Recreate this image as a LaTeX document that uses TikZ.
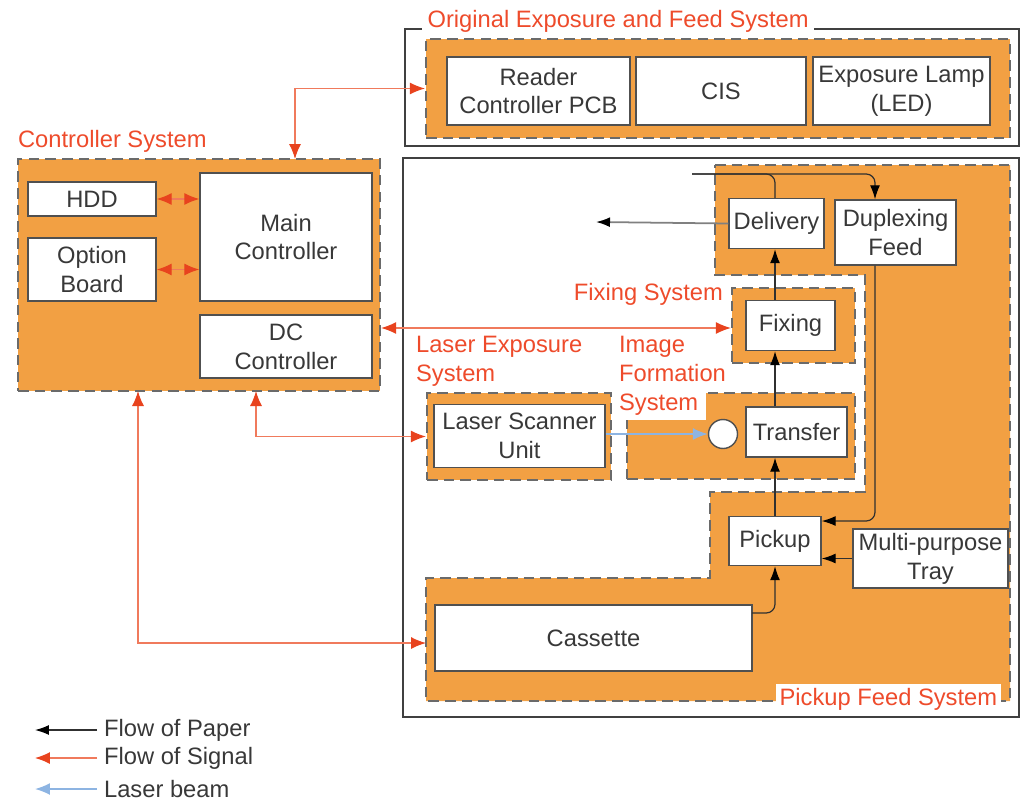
\documentclass[tikz,border=0pt]{standalone}
\usepackage{xcolor}
\usepackage{fontspec}
\setmainfont{Liberation Sans}
\usepackage{tikz}
\usetikzlibrary{arrows.meta}

\definecolor{orng}{HTML}{F2A043}
\definecolor{lblred}{HTML}{EE4B2B}
\definecolor{sigred}{HTML}{E8431E}
\definecolor{sigline}{HTML}{F07A5C}
\definecolor{beamblue}{HTML}{8DB4E2}
\definecolor{txt}{HTML}{383838}
\definecolor{dashgray}{HTML}{6A6A6A}
\definecolor{framegray}{HTML}{404040}
\definecolor{boxline}{HTML}{505050}
\definecolor{paperline}{HTML}{303030}

\begin{document}
\begin{tikzpicture}[
  x=0.02cm, y=-0.02cm,
  font=\fontsize{13.5}{16.4}\selectfont,
  box/.style={draw=boxline, fill=white, line width=0.8pt, align=center,
    inner sep=1pt, text=txt},
  sys/.style={draw=dashgray, fill=orng, dash pattern=on 6pt off 3.5pt,
    line width=1.3pt, inner sep=0pt},
  frame/.style={draw=framegray, line width=1.2pt},
  lbl/.style={text=lblred, align=left, inner sep=1pt},
  sig/.style={{Latex[length=3mm,width=2.4mm,color=sigred]}-{Latex[length=3mm,width=2.4mm,color=sigred]},
    draw=sigline, line width=0.7pt},
  paper/.style={-{Latex[length=2.8mm,width=2mm,color=black]}, draw=paperline, line width=0.7pt},
  beam/.style={-{Latex[length=3mm,width=2.4mm]}, draw=beamblue, line width=0.9pt}
]
\useasboundingbox (0,0) rectangle (1023,801);

% outer frames
\draw[frame] (405,29) rectangle (1019,146);
\draw[frame] (403,158) rectangle (1019,717);

% system areas
\node[sys, minimum width=11.68cm, minimum height=1.98cm] (orig) at (718,88.5) {};
\node[sys, minimum width=7.24cm, minimum height=4.64cm] (ctlsys) at (199,275) {};
\draw[sys] (715,165) -- (1010,165) -- (1010,701) -- (426,701) -- (426,578)
  -- (710,578) -- (710,492) -- (865,492) -- (865,275) -- (715,275) -- cycle;
\node[sys, minimum width=2.46cm, minimum height=1.5cm] (fixsys) at (793.5,325.5) {};
\node[sys, minimum width=3.68cm, minimum height=1.74cm] (lasys) at (519,436.5) {};
\node[sys, minimum width=4.56cm, minimum height=1.72cm] (ifsys) at (741,436) {};
\fill[white] (624,390) rectangle (706,420);

% labels
\node[lbl, fill=white, inner xsep=3pt, anchor=base west] (origlbl) at (422,28)
  {Original Exposure and Feed System};
\node[lbl, anchor=base west] (ctllbl) at (16,147) {Controller System};
\node[lbl, anchor=base east] (fixlbl) at (725,300) {Fixing System};
\node[lbl, anchor=north west] (lalbl) at (414,334) {Laser Exposure\\System};
\node[lbl, anchor=north west] (iflbl) at (617,334) {Image\\Formation\\System};
\node[lbl, fill=white, inner sep=2pt, anchor=base east] (pflbl) at (1001,705)
  {Pickup Feed System};

% units
\node[box, minimum width=3.66cm, minimum height=1.36cm] (rdr) at (538.5,91) {Reader\\Controller PCB};
\node[box, minimum width=3.4cm, minimum height=1.36cm] (cis) at (721,91) {CIS};
\node[box, minimum width=3.54cm, minimum height=1.36cm] (lamp) at (901.5,91) {Exposure Lamp\\(LED)};
\node[box, minimum width=2.56cm, minimum height=0.68cm] (hdd) at (92,199) {HDD};
\node[box, minimum width=2.56cm, minimum height=1.26cm] (opt) at (92,269.5) {Option\\Board};
\node[box, minimum width=3.44cm, minimum height=2.56cm] (mainc) at (286,237) {Main\\Controller};
\node[box, minimum width=3.44cm, minimum height=1.26cm] (dcc) at (286,346.5) {DC\\Controller};
\node[box, minimum width=1.9cm, minimum height=1.0cm] (dlv) at (776.5,223.5) {Delivery};
\node[box, minimum width=2.42cm, minimum height=1.3cm] (dup) at (895.5,232.5) {Duplexing\\Feed};
\node[box, minimum width=1.78cm, minimum height=1.0cm] (fix) at (790.5,325.5) {Fixing};
\node[box, minimum width=3.42cm, minimum height=1.26cm] (lsu) at (519.5,436) {Laser Scanner\\Unit};
\node[circle, draw=boxline, fill=white, line width=0.8pt, minimum size=0.58cm,
  inner sep=0pt] (drum) at (723,434) {};
\node[box, minimum width=2.02cm, minimum height=1.0cm] (trf) at (796.5,432) {Transfer};
\node[box, minimum width=1.84cm, minimum height=0.98cm] (pick) at (775,541) {Pickup};
\node[box, minimum width=3.1cm, minimum height=1.18cm] (mpt) at (930.5,558.5) {Multi-purpose\\Tray};
\node[box, minimum width=6.34cm, minimum height=1.32cm] (cas) at (593.5,638) {Cassette};

% free ends
\coordinate (ctltop) at (295,159);
\coordinate (dcbot) at (256,391);
\coordinate (cbot) at (138,391);
\coordinate (pfin) at (426,643);
\coordinate (papin) at (692,174);
\coordinate (papout) at (596,222);
\coordinate (dupx) at (875,521);
\coordinate (casout) at (752,613);

% signal
\draw[sig] (orig.west) -| (ctltop);
\draw[sig] (hdd.east) -- (hdd.east -| mainc.west);
\draw[sig] (opt.east) -- (opt.east -| mainc.west);
\draw[sig] (ctlsys.east |- 0,328) -- (fixsys.west |- 0,328);
\draw[sig] (dcbot) |- (lasys.west);
\draw[sig] (cbot) |- (pfin);

% laser beam
\draw[beam] (lsu.east |- drum.west) -- (drum.west);

% paper
\draw[paper] (pick.north) -- (pick.north |- trf.south);
\draw[paper] (pick.north |- trf.north) -- (pick.north |- fix.south);
\draw[paper] (pick.north |- fix.north) -- (pick.north |- dlv.south);
\draw[paper, rounded corners=5pt] (casout) -| (pick.south);
\draw[paper] (mpt.west) -- (mpt.west -| pick.east);
\draw[paper, rounded corners=5pt] (dup.south -| dupx) |- (pick.east |- dupx);
\draw[paper, rounded corners=5pt] (papin) -| (dup.north -| dupx);
\draw[draw=paperline, line width=0.7pt, rounded corners=5pt] (pick.north |- dlv.north) |- (papin);
\draw[paper, draw=gray, line width=1pt] (dlv.west) -- (papout);

% legend
\node[anchor=west, text=txt, inner sep=1pt] (lgpap) at (102,730) {Flow of Paper};
\node[anchor=west, text=txt, inner sep=1pt] (lgsig) at (102,758) {Flow of Signal};
\node[anchor=west, text=txt, inner sep=1pt] (lgbeam) at (102,789) {Laser beam};
\draw[paper] ([xshift=-0.1cm]lgpap.west) -- ++(-62,0);
\draw[-{Latex[length=3mm,width=2.4mm,color=sigred]}, draw=sigline, line width=0.7pt]
  ([xshift=-0.1cm]lgsig.west) -- ++(-62,0);
\draw[beam] ([xshift=-0.1cm]lgbeam.west) -- ++(-62,0);
\end{tikzpicture}
\end{document}
